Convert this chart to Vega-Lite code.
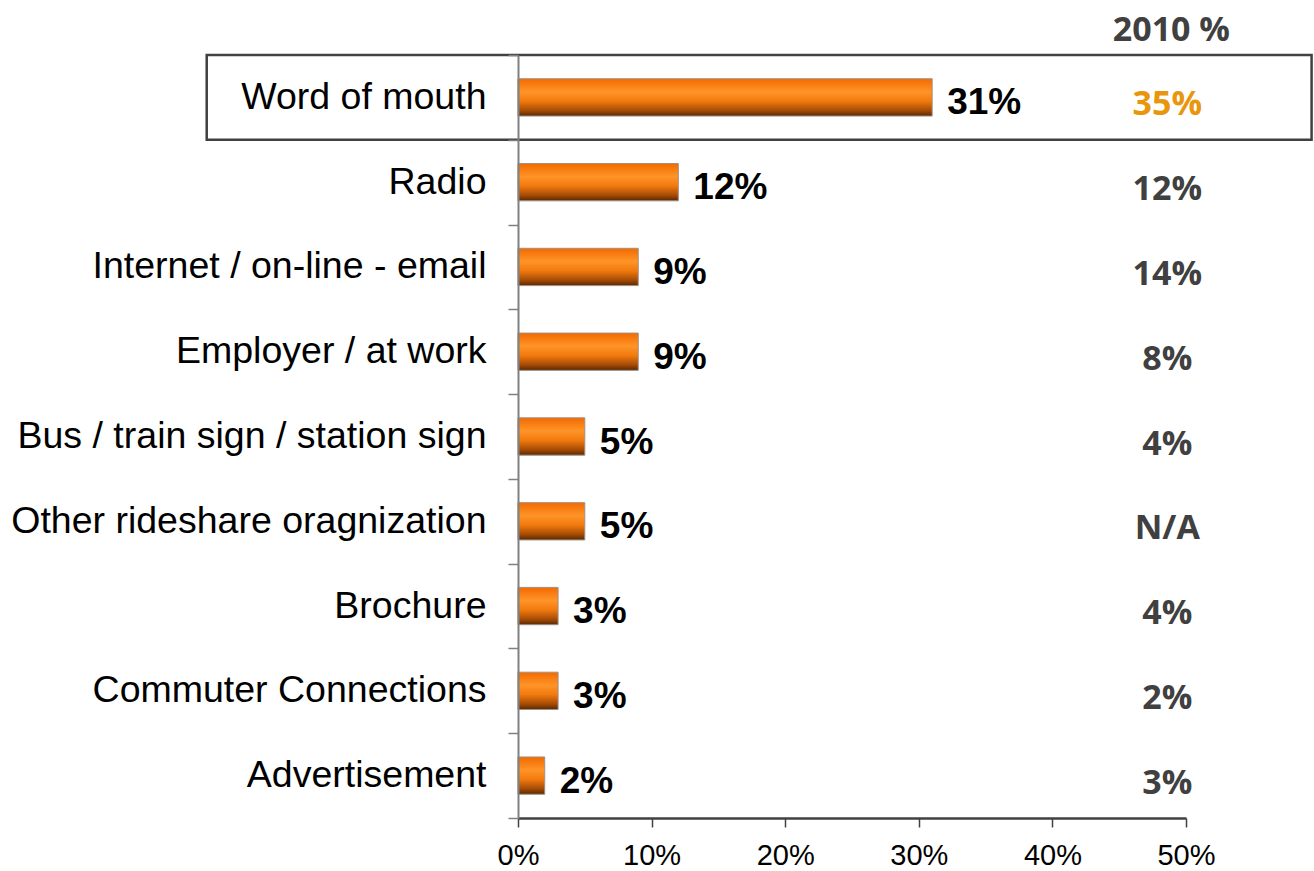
{
  "$schema": "https://vega.github.io/schema/vega-lite/v6.json",
  "width": 668,
  "height": 763,
  "autosize": {"type": "none"},
  "padding": {"left": 518, "top": 55, "right": 128, "bottom": 53},
  "background": "white",
  "config": {"view": {"stroke": null}},
  "title": {
    "text": "2010 %",
    "anchor": "end",
    "frame": "group",
    "dx": 44,
    "offset": -12,
    "font": "Open Sans",
    "fontSize": 34,
    "fontWeight": "bold",
    "color": "#404040"
  },
  "data": {
    "values": [
      {"source": "Word of mouth", "pct": 0.31, "v2010": "35%"},
      {"source": "Radio", "pct": 0.12, "v2010": "12%"},
      {"source": "Internet / on-line - email", "pct": 0.09, "v2010": "14%"},
      {"source": "Employer / at work", "pct": 0.09, "v2010": "8%"},
      {"source": "Bus / train sign / station sign", "pct": 0.05, "v2010": "4%"},
      {"source": "Other rideshare oragnization", "pct": 0.05, "v2010": "N/A"},
      {"source": "Brochure", "pct": 0.03, "v2010": "4%"},
      {"source": "Commuter Connections", "pct": 0.03, "v2010": "2%"},
      {"source": "Advertisement", "pct": 0.02, "v2010": "3%"}
    ]
  },
  "encoding": {
    "y": {
      "field": "source",
      "type": "nominal",
      "sort": null,
      "scale": {"paddingInner": 0, "paddingOuter": 0},
      "axis": {
        "title": null,
        "tickBand": "extent",
        "tickSize": 10,
        "tickWidth": 1.5,
        "tickColor": "#808080",
        "domainColor": "#808080",
        "domainWidth": 2,
        "labelFont": "Liberation Sans",
        "labelFontSize": 37.5,
        "labelColor": "#000000",
        "labelPadding": 22,
        "labelLimit": 0
      }
    }
  },
  "layer": [
    {
      "transform": [{"filter": "datum.source === 'Word of mouth'"}],
      "mark": {"type": "rect", "filled": false, "stroke": "#404040", "strokeWidth": 2.5},
      "encoding": {
        "x": {"datum": -0.233, "type": "quantitative"},
        "x2": {"datum": 0.594}
      }
    },
    {
      "mark": {
        "type": "bar",
        "height": {"band": 0.44},
        "stroke": "#a09085",
        "strokeWidth": 1,
        "color": {
          "gradient": "linear",
          "x1": 0, "y1": 0, "x2": 0, "y2": 1,
          "stops": [
            {"offset": 0, "color": "#F26A00"},
            {"offset": 0.35, "color": "#FF9428"},
            {"offset": 0.6, "color": "#F27A0E"},
            {"offset": 0.85, "color": "#A64C06"},
            {"offset": 1, "color": "#5A2800"}
          ]
        }
      },
      "encoding": {
        "x": {
          "field": "pct",
          "type": "quantitative",
          "scale": {"domain": [0, 0.5], "nice": false},
          "axis": {
            "title": null,
            "format": ".0%",
            "values": [0, 0.1, 0.2, 0.3, 0.4, 0.5],
            "grid": false,
            "labelFlush": false,
            "tickSize": 9,
            "tickWidth": 1.5,
            "tickColor": "#404040",
            "domainColor": "#404040",
            "domainWidth": 2.5,
            "labelFont": "Liberation Sans",
            "labelFontSize": 29,
            "labelColor": "#000000",
            "labelPadding": 14
          }
        }
      }
    },
    {
      "mark": {
        "type": "text",
        "align": "left",
        "baseline": "middle",
        "dx": 15,
        "dy": 6,
        "font": "Liberation Sans",
        "fontSize": 37,
        "fontWeight": "bold",
        "color": "#000000"
      },
      "encoding": {
        "x": {"field": "pct", "type": "quantitative"},
        "text": {"field": "pct", "type": "quantitative", "format": ".0%"}
      }
    },
    {
      "mark": {
        "type": "text",
        "align": "center",
        "baseline": "middle",
        "dy": 8,
        "font": "Open Sans",
        "fontSize": 34,
        "fontWeight": "bold"
      },
      "encoding": {
        "x": {"datum": 0.486, "type": "quantitative"},
        "text": {"field": "v2010", "type": "nominal"},
        "color": {
          "condition": {"test": "datum.source === 'Word of mouth'", "value": "#E8960C"},
          "value": "#404040"
        }
      }
    }
  ]
}
